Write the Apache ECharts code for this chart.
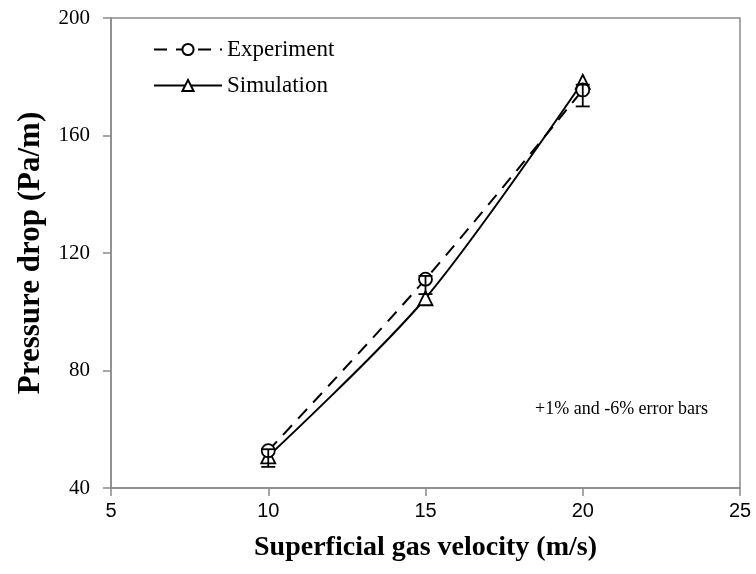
<!DOCTYPE html>
<html>
<head>
<meta charset="utf-8">
<script src="https://cdn.jsdelivr.net/npm/echarts@6/dist/echarts.min.js"></script>
<style>html,body{margin:0;padding:0;background:#fff}#c{width:756px;height:574px}</style>
</head>
<body>
<div id="c"></div>
<script>
var velocity = [10, 15, 20];
var experiment = [52.7, 111.1, 175.5];
var simulation = [50.8, 104.6, 178.3];
var errLow = [47.2, 106.0, 169.9];
var errHigh = [53.2, 112.2, 177.3];
var xTicks = [5, 10, 15, 20, 25];
var yTicks = [40, 80, 120, 160, 200];

var serif = '"Liberation Serif", "Times New Roman", serif';
var sans = '"Liberation Sans", Arial, sans-serif';
var chart = echarts.init(document.getElementById('c'));
var axisGray = '#8a8a8a';

chart.setOption({
  animation: false,
  grid: {left: 111, right: 16, top: 18, bottom: 86, show: true, borderColor: axisGray, borderWidth: 1.5},
  legend: {
    orient: 'vertical', left: 148, top: 33, itemWidth: 68, itemHeight: 14, itemGap: 13,
    textStyle: {fontFamily: serif, fontSize: 23, color: '#000'},
    data: ['Experiment', 'Simulation']
  },
  xAxis: {
    type: 'value', min: xTicks[0], max: xTicks[xTicks.length - 1], interval: 5,
    name: 'Superficial gas velocity (m/s)', nameLocation: 'middle', nameGap: 46,
    nameTextStyle: {fontFamily: serif, fontWeight: 'bold', fontSize: 28, color: '#000'},
    axisLine: {lineStyle: {color: axisGray, width: 1.5}},
    axisTick: {show: true, length: 8, lineStyle: {color: axisGray, width: 1.5}},
    axisLabel: {fontFamily: sans, fontSize: 20, color: '#000', margin: 13},
    splitLine: {show: false}
  },
  yAxis: {
    type: 'value', min: yTicks[0], max: yTicks[yTicks.length - 1], interval: 40,
    name: 'Pressure drop (Pa/m)', nameLocation: 'middle', nameGap: 65, nameRotate: 90,
    nameTextStyle: {fontFamily: serif, fontWeight: 'bold', fontSize: 31, color: '#000'},
    axisLine: {show: true, lineStyle: {color: axisGray, width: 1.5}},
    axisTick: {show: true, length: 8, lineStyle: {color: axisGray, width: 1.5}},
    axisLabel: {fontFamily: serif, fontSize: 21, color: '#000', margin: 21},
    splitLine: {show: false}
  },
  graphic: [{
    type: 'text', left: 535, top: 400,
    style: {text: '+1% and -6% error bars', font: '18px ' + serif, fill: '#000'}
  }],
  series: [
    {
      name: 'Experiment', type: 'line', smooth: 0.3,
      data: velocity.map(function (v, i) { return [v, experiment[i]]; }),
      symbol: 'circle', symbolSize: 13,
      itemStyle: {color: '#fff', borderColor: '#000', borderWidth: 1.8},
      lineStyle: {color: '#000', width: 2, type: [13, 9]},
      z: 3
    },
    {
      name: 'Simulation', type: 'line', smooth: 0.3,
      data: velocity.map(function (v, i) { return [v, simulation[i]]; }),
      symbol: 'triangle', symbolSize: 14,
      itemStyle: {color: '#fff', borderColor: '#000', borderWidth: 1.8},
      lineStyle: {color: '#000', width: 2},
      z: 2
    },
    {
      name: 'err', type: 'custom',
      data: velocity.map(function (v, i) { return [v, errLow[i], errHigh[i]]; }),
      renderItem: function (params, api) {
        var x = api.value(0);
        var lo = api.coord([x, api.value(1)]);
        var hi = api.coord([x, api.value(2)]);
        var w = 7;
        var st = {stroke: '#000', lineWidth: 1.8};
        return {type: 'group', children: [
          {type: 'line', shape: {x1: lo[0], y1: lo[1], x2: hi[0], y2: hi[1]}, style: st},
          {type: 'line', shape: {x1: lo[0] - w, y1: lo[1], x2: lo[0] + w, y2: lo[1]}, style: st},
          {type: 'line', shape: {x1: hi[0] - w, y1: hi[1], x2: hi[0] + w, y2: hi[1]}, style: st}
        ]};
      },
      z: 4
    }
  ]
});
</script>
</body>
</html>
